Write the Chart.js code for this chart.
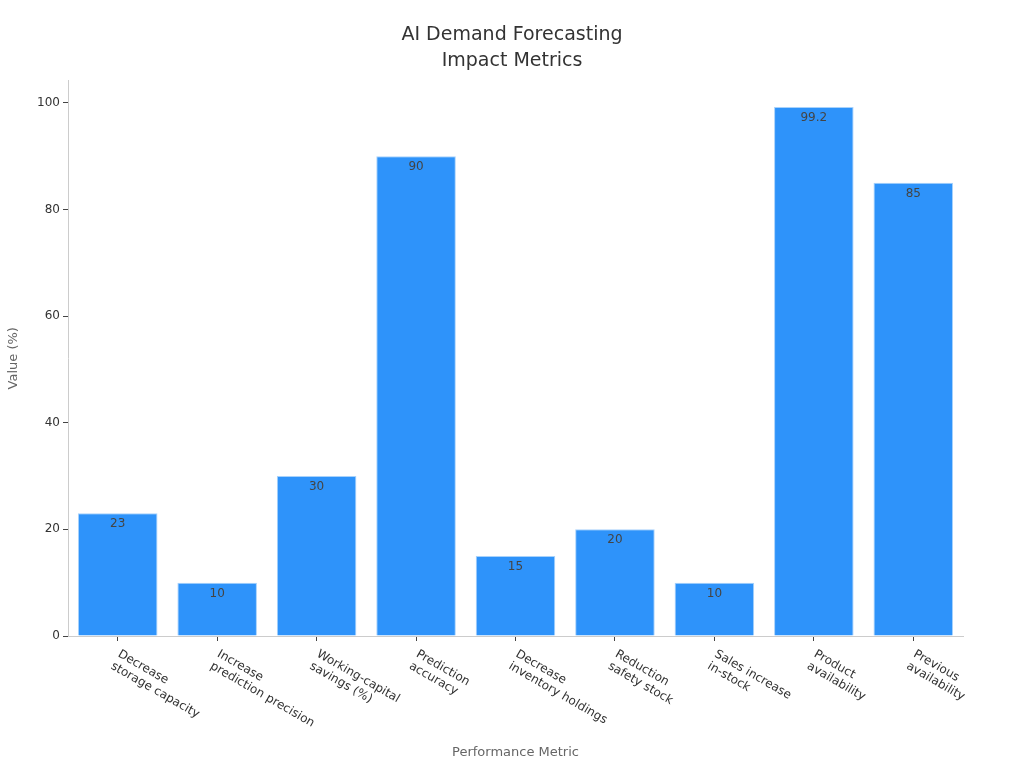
<!DOCTYPE html>
<html>
<head>
<meta charset="utf-8">
<script src="https://cdn.jsdelivr.net/npm/chart.js@4"></script>
<style>
  html, body { margin: 0; padding: 0; background: #fff; }
  #wrap { width: 1024px; height: 768px; }
</style>
</head>
<body>
<div id="wrap"><canvas id="myChart"></canvas></div>
<script>
// chart data
const metrics = [
  ['Decrease', 'storage capacity'],
  ['Increase', 'prediction precision'],
  ['Working-capital', 'savings (%)'],
  ['Prediction', 'accuracy'],
  ['Decrease', 'inventory holdings'],
  ['Reduction', 'safety stock'],
  ['Sales increase', 'in-stock'],
  ['Product', 'availability'],
  ['Previous', 'availability']
];
const values = [23, 10, 30, 90, 15, 20, 10, 99.2, 85];
const yTicks = [0, 20, 40, 60, 80, 100];

const FONT = 'DejaVu Sans';

// value labels just inside the top of each bar
const valueLabels = {
  id: 'valueLabels',
  afterDatasetsDraw(chart) {
    const ctx = chart.ctx;
    const meta = chart.getDatasetMeta(0);
    ctx.save();
    ctx.font = '12px "' + FONT + '"';
    ctx.fillStyle = '#444';
    ctx.textAlign = 'center';
    ctx.textBaseline = 'top';
    meta.data.forEach((bar, i) => {
      ctx.fillText(String(values[i]), bar.x, bar.y + 5);
    });
    ctx.restore();
  }
};

// rotated x tick labels, starting at the tick and running down-right
const slantLabels = {
  id: 'slantLabels',
  afterDraw(chart) {
    const ctx = chart.ctx;
    const xs = chart.scales.x;
    ctx.save();
    ctx.font = '12px "' + FONT + '"';
    ctx.fillStyle = '#333';
    ctx.textAlign = 'left';
    ctx.textBaseline = 'top';
    metrics.forEach((lines, i) => {
      const x = xs.getPixelForTick(i);
      ctx.save();
      ctx.translate(x + 4, xs.top + 12);
      ctx.rotate(Math.PI / 6);
      lines.forEach((t, j) => ctx.fillText(t, 0, j * 14));
      ctx.restore();
    });
    ctx.restore();
  }
};

// keep the title centred on the whole canvas, not the padded box
const centreTitle = {
  id: 'centreTitle',
  afterLayout(chart) {
    const tb = chart.titleBlock;
    if (tb) { tb.left = 0; tb.right = chart.width; tb.width = chart.width; }
  }
};

new Chart(document.getElementById('myChart'), {
  type: 'bar',
  data: {
    labels: metrics.map(l => l.join(' ')),
    datasets: [{
      data: values,
      backgroundColor: '#2E93FA',
      borderColor: '#A8D2FB',
      borderWidth: 1,
      barPercentage: 0.8,
      categoryPercentage: 1.0
    }]
  },
  options: {
    responsive: true,
    maintainAspectRatio: false,
    animation: false,
    devicePixelRatio: 1,
    layout: { padding: { left: 6, right: 61, top: 22, bottom: 8 } },
    plugins: {
      legend: { display: false },
      tooltip: { enabled: false },
      title: {
        display: true,
        text: ['AI Demand Forecasting', 'Impact Metrics'],
        color: '#333',
        font: { family: FONT, size: 19, weight: 'normal', lineHeight: 1.38 },
        padding: { top: 0, bottom: 6 }
      }
    },
    scales: {
      x: {
        grid: { display: true, offset: false, drawOnChartArea: false, tickLength: 5, tickColor: '#444', color: 'transparent' },
        border: { display: true, color: '#ccc' },
        ticks: { display: false },
        title: {
          display: true,
          text: 'Performance Metric',
          color: '#666',
          font: { family: FONT, size: 13 },
          padding: { top: 0, bottom: 0 }
        },
        afterFit(scale) { scale.height = 124; }
      },
      y: {
        min: 0,
        max: 104.2,
        afterBuildTicks(scale) { scale.ticks = yTicks.map(v => ({ value: v })); },
        grid: { display: true, drawOnChartArea: false, tickLength: 5, tickColor: '#444', color: 'transparent' },
        border: { display: true, color: '#ccc' },
        ticks: { color: '#333', font: { family: FONT, size: 12 }, padding: 3 },
        title: {
          display: true,
          text: 'Value (%)',
          color: '#666',
          font: { family: FONT, size: 13 },
          padding: { top: 0, bottom: 6 }
        },
        afterFit(scale) { scale.width = 62; }
      }
    }
  },
  plugins: [valueLabels, slantLabels, centreTitle]
});
</script>
</body>
</html>
